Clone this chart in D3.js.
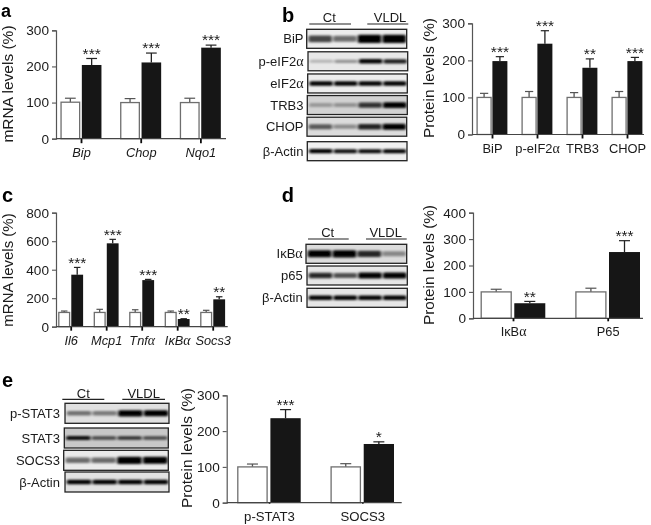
<!DOCTYPE html>
<html><head><meta charset="utf-8">
<script src="https://cdnjs.cloudflare.com/ajax/libs/d3/7.8.5/d3.min.js"></script>
<style>
html,body{margin:0;padding:0;background:#fff}
svg{display:block}
text{font-family:"Liberation Sans",Arial,sans-serif;fill:#1a1a1a}
</style></head><body><div id="chart"></div>
<script>
// ---- data: bar charts ----
const aGroups=["Bip","Chop","Nqo1"];
const aCt=[101,100,100], aCtTop=[112,111,112];
const aVldl=[204,211,252], aVldlTop=[222,237,259];
const aStars=["***","***","***"];

const bGroups=["BiP","p-eIF2α","TRB3","CHOP"];
const bCt=[100,100,100,100], bCtTop=[111,116,113,116];
const bVldl=[198,245,180,198], bVldlTop=[210,280,204,208];
const bStars=["***","***","**","***"];

const cGroups=["Il6","Mcp1","Tnfα","IκBα","Socs3"];
const cCt=[100,100,100,100,100], cCtTop=[110,122,119,110,115];
const cVldl=[365,585,327,54,192], cVldlTop=[416,613,332,56,210];
const cStars=["***","***","***","**","**"];

const dGroups=["IκBα","P65"];
const dCt=[100,100], dCtTop=[110,114];
const dVldl=[57,251], dVldlTop=[64,294];
const dStars=["**","***"];

const eGroups=["p-STAT3","SOCS3"];
const eCt=[100,100], eCtTop=[108,109];
const eVldl=[236,164], eVldlTop=[260,170];
const eStars=["***","*"];

// ---- data: blot band densities (Ct, Ct, VLDL, VLDL) ----
const lanes=["Ct1","Ct2","VLDL1","VLDL2"];
const bRows=["BiP","p-eIF2α","eIF2α","TRB3","CHOP","β-Actin"];
const bBands=[[.6,.45,1,1],[.18,.3,.92,.75],[.92,.88,.85,.85],[.22,.25,.65,.85],[.5,.3,.72,.85],[.92,.8,.82,.88]];
const dRows=["IκBα","p65","β-Actin"];
const dBands=[[.95,1,.7,.32],[.7,.55,.95,1],[.88,.88,.85,.85]];
const eRows=["p-STAT3","STAT3","SOCS3","β-Actin"];
const eBands=[[.42,.38,1,.95],[.8,.55,.65,.55],[.45,.45,1,.95],[.85,.85,.85,.85]];
const panelLetters=["a","b","c","d","e"];

const W=651,H=525;
const svg=d3.select("#chart").append("svg").attr("width",W).attr("height",H).attr("viewBox",`0 0 ${W} ${H}`);
const defs=svg.append("defs");
defs.append("filter").attr("id","soft").attr("x","-5%").attr("y","-5%").attr("width","110%").attr("height","110%")
  .append("feGaussianBlur").attr("stdDeviation",0.35);
defs.append("filter").attr("id","band").attr("x","-30%").attr("y","-200%").attr("width","160%").attr("height","500%")
  .append("feGaussianBlur").attr("stdDeviation","1.4 0.8");
const root=svg.append("g").attr("filter","url(#soft)");

function rich(sel,str){
  // the Greek alpha in the source is set in a symbol face
  sel.each(function(){
    const t=d3.select(this); t.text(null);
    str.split(/(α)/).filter(Boolean).forEach(p=>{
      const s=t.append("tspan").text(p);
      if(p==="α") s.style("font-family",'"Liberation Serif",serif').style("font-size","1.08em");
    });
  });
}

function barPanel(o){
  const g=root.append("g");
  const y=d3.scaleLinear().domain([0,o.max]).range([o.y0,o.y1]);
  const x=d3.scalePoint().domain(o.groups).range(o.cx);
  const w=o.barW, gap=o.gap;
  const rows=o.groups.map((k,i)=>({k,ct:o.ct[i],ctTop:o.ctTop[i],v:o.v[i],vTop:o.vTop[i],s:o.stars[i]}));

  const bars=g.selectAll("g.grp").data(rows).join("g");
  const whisk=(sel,cxf,topf,basef,col,capw)=>{
    sel.append("line").attr("x1",cxf).attr("x2",cxf).attr("y1",d=>y(topf(d))).attr("y2",d=>y(basef(d))).attr("stroke",col).attr("stroke-width",1.3);
    sel.append("line").attr("x1",d=>cxf(d)-capw/2).attr("x2",d=>cxf(d)+capw/2).attr("y1",d=>y(topf(d))).attr("y2",d=>y(topf(d))).attr("stroke",col).attr("stroke-width",1.2);
  };
  const capw=Math.min(w*0.55,11);
  whisk(bars,d=>x(d.k)-gap/2-w/2,d=>d.ctTop,d=>d.ct,"#555",capw);
  whisk(bars,d=>x(d.k)+gap/2+w/2,d=>d.vTop,d=>d.v,"#222",capw);
  bars.append("rect").attr("x",d=>x(d.k)-gap/2-w+.5).attr("width",w-1).attr("y",d=>y(d.ct)).attr("height",d=>y(0)-y(d.ct))
    .attr("fill","#fff").attr("stroke","#6e6e6e").attr("stroke-width",1.3);
  bars.append("rect").attr("x",d=>x(d.k)+gap/2).attr("width",w).attr("y",d=>y(d.v)).attr("height",d=>y(0)-y(d.v))
    .attr("fill","#141414");
  bars.append("text").attr("x",d=>x(d.k)+gap/2+w/2).attr("y",d=>y(d.vTop)+.3)
    .attr("text-anchor","middle").style("font-size","15.5px").text(d=>d.s);

  const ax=g.append("g").attr("transform",`translate(${o.x0},0)`).call(d3.axisLeft(y).ticks(o.ticks).tickSize(4).tickPadding(3));
  ax.selectAll("text").style("font-size","13.6px").style("font-family",'"Liberation Sans"');
  ax.select(".domain").attr("stroke","#555").attr("stroke-width",1.2);
  ax.selectAll(".tick line").attr("stroke","#555").attr("stroke-width",1.1);

  const bx=g.append("g").attr("transform",`translate(0,${o.y0})`).call(
    d3.axisBottom(x).tickSize(o.tickLen).tickPadding(o.pad).tickSizeOuter(0));
  bx.select(".domain").attr("d",`M${o.x0},0H${o.x1}`).attr("stroke","#444").attr("stroke-width",1.2);
  bx.selectAll(".tick line").attr("stroke","#111").attr("stroke-width",1.8);
  bx.selectAll(".tick text").style("font-size",o.lab+"px").style("font-family",'"Liberation Sans"')
    .style("font-style",o.italic?"italic":"normal").each(function(d){rich(d3.select(this),d)});

  g.append("text").attr("transform",`translate(${o.labX},${o.labY}) rotate(-90)`)
    .attr("text-anchor","middle").style("font-size",o.labSize+"px").text(o.title);
}

function blotPanel(o){
  const g=root.append("g");
  const rowY=d3.scalePoint().domain(o.rows).range(o.rowRange);
  o.rows.forEach((r,i)=>{
    const x0=o.xs[i][0], x1=o.xs[i][1];
    const cy=rowY(r)+(o.nudge?o.nudge[i]:0), hh=o.h/2;
    const lane=d3.scalePoint().domain(lanes).range([x0+(x1-x0)*.135,x0+(x1-x0)*.875]);
    const bw=(x1-x0)*.235;
    const thick=d=>2.4*o.ry[i]*(.55+.45*d);
    const row=g.append("g");
    const id="cl"+o.id+i;
    defs.append("clipPath").attr("id",id).append("rect").attr("x",x0).attr("y",cy-hh).attr("width",x1-x0).attr("height",o.h);
    row.append("rect").attr("x",x0).attr("y",cy-hh).attr("width",x1-x0).attr("height",o.h).attr("fill",o.bg[i]);
    row.append("g").attr("clip-path",`url(#${id})`).selectAll("rect").data(o.bands[i]).join("rect")
      .attr("x",(d,j)=>lane(lanes[j])-bw/2).attr("width",bw)
      .attr("y",d=>cy-thick(d)/2).attr("height",thick).attr("rx",1.5)
      .attr("fill","#000").attr("opacity",d=>Math.min(1,.02+1.15*d)).attr("filter","url(#band)");
    row.append("rect").attr("x",x0).attr("y",cy-hh).attr("width",x1-x0).attr("height",o.h)
      .attr("fill","none").attr("stroke","#222").attr("stroke-width",1.3);
    g.append("text").attr("x",o.labX).attr("y",cy+4.5).attr("text-anchor","end").style("font-size","13px")
      .each(function(){rich(d3.select(this),r)});
  });
  o.head.forEach(h=>{
    g.append("line").attr("x1",h.x1).attr("x2",h.x2).attr("y1",o.headY).attr("y2",o.headY).attr("stroke","#222").attr("stroke-width",1.2);
    g.append("text").attr("x",h.c).attr("y",o.headY-1.8).attr("text-anchor","middle").style("font-size","13px").text(h.t);
  });
}

barPanel({groups:aGroups,ct:aCt,ctTop:aCtTop,v:aVldl,vTop:aVldlTop,stars:aStars,max:300,ticks:3,
  x0:56,x1:226,y0:138.7,y1:30.3,cx:[81,200.4],barW:19.6,gap:1.7,tickLen:4.5,pad:4.6,lab:12.8,italic:true,
  title:"mRNA levels (%)",labX:12.5,labY:84,labSize:15.5});
barPanel({groups:bGroups,ct:bCt,ctTop:bCtTop,v:bVldl,vTop:bVldlTop,stars:bStars,max:300,ticks:3,
  x0:472,x1:644,y0:134.5,y1:23.3,cx:[492,627],barW:15,gap:.8,tickLen:4,pad:5.5,lab:12.9,italic:false,
  title:"Protein levels (%)",labX:434,labY:78,labSize:15.3});
barPanel({groups:cGroups,ct:cCt,ctTop:cCtTop,v:cVldl,vTop:cVldlTop,stars:cStars,max:800,ticks:4,
  x0:56,x1:227.7,y0:326.7,y1:212.7,cx:[70.7,212.7],barW:11.8,gap:1.2,tickLen:4,pad:5.5,lab:12.8,italic:true,
  title:"mRNA levels (%)",labX:12.5,labY:270,labSize:15});
barPanel({groups:dGroups,ct:dCt,ctTop:dCtTop,v:dVldl,vTop:dVldlTop,stars:dStars,max:400,ticks:4,
  x0:473,x1:643,y0:318.3,y1:212.7,cx:[513,607.7],barW:31,gap:2.6,tickLen:3,pad:5.5,lab:12.8,italic:false,
  title:"Protein levels (%)",labX:434,labY:265,labSize:15.3});
barPanel({groups:eGroups,ct:eCt,ctTop:eCtTop,v:eVldl,vTop:eVldlTop,stars:eStars,max:300,ticks:3,
  x0:226.7,x1:401.7,y0:502.7,y1:395.3,cx:[269,362.3],barW:30.3,gap:2.8,tickLen:1,pad:8,lab:13.2,italic:false,
  title:"Protein levels (%)",labX:191.7,labY:448,labSize:15.3});

blotPanel({id:"b",rows:bRows,bands:bBands,rowRange:[38.8,151.2],h:19,labX:303.5,
  nudge:[0,0,-.3,-1.2,-2,0],
  bg:["#ececec","#e8e8e8","#ededed","#d2d2d2","#dcdcdc","#f0f0f0"],
  ry:[3.4,2,2,2.6,2.6,1.8],
  xs:[[306.7,406.7],[308,407.7],[307.7,407.3],[307.3,407.3],[307,406.7],[307.3,407]],
  headY:24,head:[{x1:309.3,x2:351,c:329.3,t:"Ct"},{x1:367.3,x2:408.3,c:390,t:"VLDL"}]});
blotPanel({id:"d",rows:dRows,bands:dBands,rowRange:[253.8,297.8],h:19,labX:302.7,
  nudge:[0,-.3,0],
  bg:["#dcdcdc","#e6e6e6","#e6e6e6"],
  ry:[3,2.6,2],
  xs:[[306,406.7],[307,407.3],[307,407.3]],
  headY:239,head:[{x1:308,x2:348.7,c:327.7,t:"Ct"},{x1:366,x2:406.7,c:385.7,t:"VLDL"}]});
blotPanel({id:"e",rows:eRows,bands:eBands,rowRange:[413.3,482],h:20,labX:60,
  nudge:[0,1.8,1.2,0],
  bg:["#e0e0e0","#c8c8c8","#eaeaea","#e2e2e2"],
  ry:[2.6,1.8,3,2],
  xs:[[65,169],[64.3,168.3],[63.7,168.3],[65,169]],
  headY:399.3,head:[{x1:62.3,x2:104.3,c:83.3,t:"Ct"},{x1:122.3,x2:165,c:143.7,t:"VLDL"}]});

const letterPos=[[1,16.5],[282,21.7],[2,202],[281.7,202.3],[2,387]];
root.selectAll("text.letter").data(panelLetters).join("text").attr("class","letter")
  .attr("x",(d,i)=>letterPos[i][0]).attr("y",(d,i)=>letterPos[i][1])
  .style("font-size",(d,i)=>i===0?"18px":"20px").style("font-weight","bold").style("fill","#000").text(d=>d);
</script></body></html>
